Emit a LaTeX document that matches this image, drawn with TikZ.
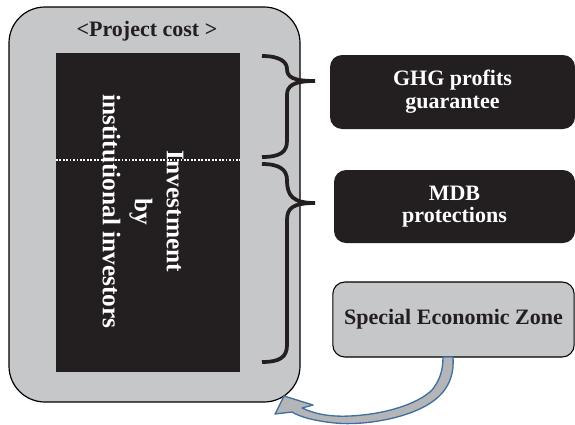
\documentclass[tikz,border=0pt]{standalone}
\usepackage{fontspec}
\setmainfont{Liberation Serif}
\definecolor{ink}{HTML}{231F20}
\definecolor{panelgray}{HTML}{C6C7C9}
\definecolor{arrowblue}{HTML}{41709F}
\definecolor{arrowfill}{HTML}{B3B5B8}
\begin{document}
\begin{tikzpicture}[x=0.75pt,y=-0.75pt,
  panel/.style={draw=black, line width=0.9pt, fill=panelgray, rounded corners=27pt,
    minimum width=218.25pt, minimum height=296.25pt, inner sep=0pt},
  core/.style={fill=ink, draw=none, minimum width=138pt, minimum height=239.25pt, inner sep=0pt},
  tag/.style={fill=ink, rounded corners=9pt, text=white, inner sep=0pt,
    font=\bfseries\fontsize{16.5}{17}\selectfont, align=center},
  zone/.style={draw=black, line width=0.8pt, fill=panelgray, rounded corners=9pt, text=ink,
    inner sep=0pt, font=\bfseries\fontsize{16.5}{17}\selectfont, align=center},
  brace/.style={draw=ink, line width=2.8pt},
  caption/.style={text=ink, font=\bfseries\fontsize{16.5}{17}\selectfont}]
  \useasboundingbox (0,0) rectangle (575,425);

  % project cost panel and the investment block
  \node[panel] (proj) at (154.5,204.5) {};
  \node[caption] (cost) at (147,31) {<Project cost >};
  \node[core] (inv) at (148,212.5) {};
  \draw[white, line width=1.4pt, dash pattern=on 1.4pt off 1.2pt]
    (inv.west |- 0,160) -- (inv.east |- 0,160);
  \node[rotate=-90, text=white, align=center, inner sep=0pt,
    font=\bfseries\fontsize{19}{24}\selectfont] (invtext) at (143,211.5)
    {Investment\\by\\institutional investors};

  % braces
  \draw[brace] (262,56) .. controls (280,56) and (287,62) .. (287,69)
    .. controls (287,77) and (293,81) .. (315,81)
    .. controls (293,81) and (287,86) .. (287,95)
    -- (287,141) .. controls (287,152) and (280,157) .. (262,157);
  \draw[brace] (262,164) .. controls (280,164) and (287,170) .. (287,180)
    .. controls (287,196) and (293,203) .. (315,203)
    .. controls (293,203) and (287,208) .. (287,220)
    -- (287,345) .. controls (287,357) and (280,362) .. (262,362);

  % support boxes
  \node[tag, minimum width=183.75pt, minimum height=55.5pt] (ghg) at (452.5,92)
    {GHG profits\\guarantee};
  \node[tag, minimum width=180.75pt, minimum height=54.75pt] (mdb) at (454.5,206.5)
    {MDB\\protections};
  \node[zone, minimum width=181pt, minimum height=56.25pt] (sez) at (453.5,319.5)
    {Special Economic Zone};

  % curved arrow from the zone back to the project
  \coordinate (a1) at (443,357);
  \coordinate (a2) at (453,357);
  \coordinate (tip) at (284,396);
  \filldraw[draw=arrowblue, fill=arrowfill, line width=1pt, line join=round]
    (a1) -- (a2)
    .. controls (455,385) and (440,402) .. (410,413)
    .. controls (385,422) and (355,425) .. (335,423)
    .. controls (315,421) and (300,417) .. (292,412)
    -- (275,414) -- (tip) -- (313,405) -- (302,408)
    .. controls (315,414) and (330,417) .. (350,416)
    .. controls (390,414) and (420,402) .. (432,390)
    .. controls (440,380) and (443,370) .. (a1) -- cycle;
\end{tikzpicture}
\end{document}
